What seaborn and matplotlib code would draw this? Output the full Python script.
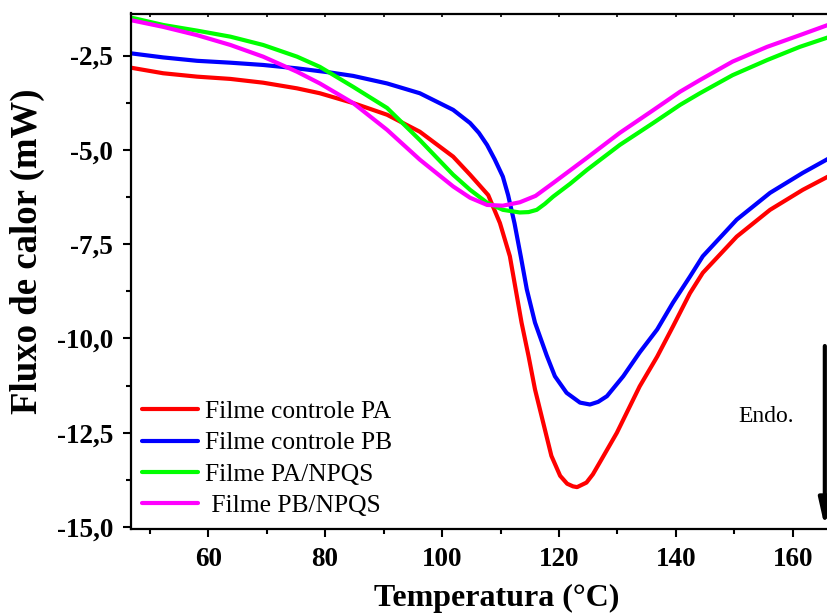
import matplotlib
matplotlib.use("Agg")
import matplotlib.pyplot as plt
from matplotlib.ticker import MultipleLocator, FixedLocator
import numpy as np
import pandas as pd
import seaborn as sns

# DSC curves: temperature (°C) and heat flow (mW)
temp_pa = [46.7, 52.3, 58.1, 63.8, 69.4, 75.2, 79.1, 84.8, 90.6, 96.2, 101.9, 104.8,
           107.9, 109.9, 111.6, 112.6, 113.6, 114.8, 115.9, 117.3, 118.7, 120.2, 121.4,
           122.4, 123.1, 124.7, 125.8, 127.0, 129.9, 133.8, 136.8, 139.5, 142.4, 144.6, 150.4,
           156.1, 161.7, 166.0, 168.0]
flux_pa = [-2.82, -2.97, -3.06, -3.12, -3.22, -3.37, -3.50, -3.76, -4.07, -4.52, -5.18, -5.66,
           -6.20, -6.94, -7.82, -8.70, -9.58, -10.47, -11.35, -12.23, -13.11, -13.64, -13.85,
           -13.92, -13.94, -13.82, -13.60, -13.28, -12.50, -11.27, -10.48, -9.68, -8.80, -8.26,
           -7.30, -6.59, -6.06, -5.71, -5.57]

temp_pb = [46.7, 52.3, 58.1, 63.8, 69.4, 75.2, 80.9, 84.8, 90.6, 96.2, 101.9, 104.8,
           106.3, 107.7, 109.0, 110.4, 111.3, 112.4, 113.5, 114.5, 115.9, 117.9, 119.3, 121.3,
           123.6, 125.3, 126.7, 128.2, 131.0, 133.8, 136.8, 139.5, 142.4, 144.6, 150.4, 156.1,
           161.7, 166.0, 168.0]
flux_pb = [-2.44, -2.55, -2.64, -2.69, -2.75, -2.84, -2.95, -3.04, -3.24, -3.50, -3.94, -4.29,
           -4.55, -4.87, -5.25, -5.71, -6.20, -6.95, -7.85, -8.70, -9.58, -10.45, -11.00, -11.44,
           -11.70, -11.75, -11.68, -11.53, -11.00, -10.37, -9.76, -9.05, -8.36, -7.82, -6.85,
           -6.14, -5.61, -5.24, -5.10]

temp_pa_np = [46.7, 52.3, 58.1, 63.8, 69.4, 75.2, 79.1, 84.8, 90.6, 96.2, 101.9, 104.8,
              107.7, 110.4, 113.3, 114.8, 116.2, 117.6, 119.0, 121.9, 124.8, 130.4, 136.1,
              140.7, 144.1, 149.7, 155.6, 161.2, 166.0, 168.0]
flux_pa_np = [-1.49, -1.69, -1.84, -2.00, -2.22, -2.53, -2.80, -3.33, -3.89, -4.74, -5.66, -6.06,
              -6.40, -6.59, -6.66, -6.65, -6.59, -6.43, -6.24, -5.90, -5.53, -4.87, -4.29,
              -3.81, -3.50, -3.02, -2.62, -2.27, -2.02, -1.93]

temp_pb_np = [46.7, 52.3, 58.1, 63.8, 69.4, 75.2, 79.1, 84.8, 90.6, 96.2, 101.9, 104.8,
              107.7, 110.4, 113.3, 116.0, 119.0, 124.8, 130.4, 136.1, 140.7, 144.1, 149.7,
              155.6, 161.2, 166.0, 168.0]
flux_pb_np = [-1.56, -1.74, -1.96, -2.22, -2.53, -2.93, -3.24, -3.76, -4.47, -5.26, -5.97, -6.27,
              -6.46, -6.48, -6.39, -6.22, -5.88, -5.21, -4.55, -3.95, -3.46, -3.15, -2.66,
              -2.27, -1.96, -1.69, -1.60]

series_names = ["Filme controle PA", "Filme controle PB", "Filme PA/NPQS", " Filme PB/NPQS"]
series_colors = ["#ff0000", "#0000ff", "#00ff00", "#ff00ff"]

x_ticks = [60, 80, 100, 120, 140, 160]
y_ticks = [-15.0, -12.5, -10.0, -7.5, -5.0, -2.5]
y_tick_labels = ["-15,0", "-12,5", "-10,0", "-7,5", "-5,0", "-2,5"]

frames = []
for name, t, f in zip(series_names,
                      [temp_pa, temp_pb, temp_pa_np, temp_pb_np],
                      [flux_pa, flux_pb, flux_pa_np, flux_pb_np]):
    frames.append(pd.DataFrame({"Temperatura": t, "Fluxo": f, "Amostra": name}))
df = pd.concat(frames, ignore_index=True)

sns.set_style("ticks", {"axes.edgecolor": "black", "xtick.color": "black",
                        "ytick.color": "black", "text.color": "black",
                        "axes.labelcolor": "black"})
plt.rcParams["font.family"] = ["Liberation Serif", "DejaVu Serif"]

W, H = 828, 614
fig = plt.figure(figsize=(W / 100, H / 100), dpi=100)
left_px, right_px, top_px, bottom_px = 131, 863, 13.5, 529
ax = fig.add_axes([left_px / W, 1 - bottom_px / H,
                   (right_px - left_px) / W, (bottom_px - top_px) / H])

sns.lineplot(data=df, x="Temperatura", y="Fluxo", hue="Amostra",
             hue_order=series_names, palette=series_colors,
             estimator=None, sort=False, linewidth=3.0, ax=ax)
for ln in ax.get_lines():
    ln.set_solid_joinstyle("round")

ax.set_xlim(46.8, 172.0)
ax.set_ylim(-15.05, -1.386)

for side in ["left", "bottom", "top", "right"]:
    ax.spines[side].set_linewidth(1.6)

ax.xaxis.set_major_locator(FixedLocator(x_ticks))
ax.xaxis.set_minor_locator(MultipleLocator(10))
ax.set_yticks(y_ticks)
ax.set_yticklabels(y_tick_labels)
ax.yaxis.set_minor_locator(MultipleLocator(1.25))

ax.tick_params(which="major", direction="out", length=6, width=1.5, pad=7,
               labelsize=19.5)
ax.tick_params(which="minor", direction="out", length=3.5, width=1.5)
ax.tick_params(top=False, right=False, which="both")
for lbl in ax.get_xticklabels() + ax.get_yticklabels():
    lbl.set_fontweight("bold")

# short inward ticks along the top frame
top = ax.secondary_xaxis("top")
top.xaxis.set_major_locator(MultipleLocator(10))
top.tick_params(direction="in", length=3, width=1.2, labeltop=False)
top.spines["top"].set_visible(False)

ax.set_xlabel("Temperatura (°C)", fontsize=23, fontweight="bold")
ax.set_ylabel("Fluxo de calor (mW)", fontsize=26.5, fontweight="bold")
ax.xaxis.set_label_coords((497 - left_px) / (right_px - left_px),
                          -(584 - bottom_px) / (bottom_px - top_px))
ax.yaxis.set_label_coords(-(131 - 45) / (right_px - left_px),
                          (bottom_px - 251) / (bottom_px - top_px))

handles, labels = ax.get_legend_handles_labels()
leg = ax.legend(handles, labels, loc="lower left", bbox_to_anchor=(0.015, 0.024),
                frameon=False, fontsize=18.4, handlelength=2.19, handletextpad=0.27,
                labelspacing=0.32, borderpad=0, borderaxespad=0)
for h in leg.get_lines():
    h.set_linewidth(3.0)

# endothermic direction marker
ax.annotate("", xy=(165.47, -15.0), xytext=(165.47, -10.2),
            arrowprops=dict(arrowstyle="-|>,head_length=0.8,head_width=0.18",
                            mutation_scale=20, lw=3.0, color="black",
                            shrinkA=0, shrinkB=0))
ax.text(155.4, -12.06, "Endo.", fontsize=17, ha="center", va="center")

fig.savefig("out.png", dpi=100)
